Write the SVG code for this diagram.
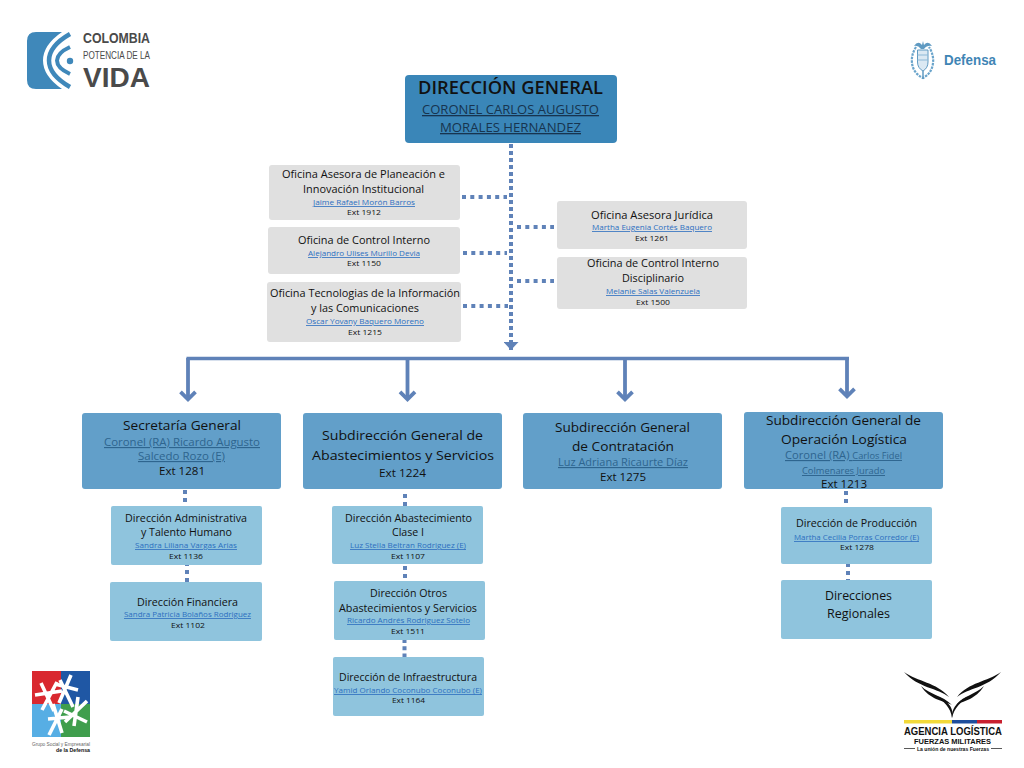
<svg xmlns="http://www.w3.org/2000/svg" width="1024" height="768" viewBox="0 0 1024 768">
<style>
text{font-family:"Open Sans","Noto Sans","Liberation Sans",sans-serif;fill:#111;}
.logo{font-family:"Liberation Sans",Arial,sans-serif;font-weight:700}
.u{text-decoration:underline}
.dg{font-size:17.500px;font-weight:600}
.dn{font-size:13px;fill:#17344f}
.t{font-size:11.500px}
.n{font-size:8px;fill:#2c6fc0}
.e{font-size:8px}
.bt{font-size:13.500px}
.bn{font-size:11.500px;fill:#2e658f}
.be{font-size:11.500px}
.lb{font-size:12px}
.top{fill:#3a86b8}
.gray{fill:#e0e0e0}
.mid{fill:#629fc9}
.light{fill:#8fc4dd}
.dash{fill:none;stroke:#5f82b8;stroke-width:4}
.solid{fill:none;stroke:#5f82b8;stroke-width:3.800}
</style>
<defs>
<marker id="chev" markerUnits="userSpaceOnUse" markerWidth="16" markerHeight="22" refX="9.200" refY="11" orient="auto" viewBox="0 0 16 22"><path d="M2,3.500 L9.500,11 L2,18.500" fill="none" stroke="#5f82b8" stroke-width="3.800"/></marker>
<marker id="tri" markerUnits="userSpaceOnUse" markerWidth="9" markerHeight="15" refX="8" refY="7.500" orient="auto" viewBox="0 0 9 15"><path d="M0,0 L8,7.500 L0,15 Z" fill="#5f82b8"/></marker>
</defs>
<rect width="1024" height="768" fill="#fff"/>

<g id="logo-colombia">
<path d="M62,32 H36 Q27,32 27,41 V80 Q27,89 36,89 H62 Q43,76 43,60.500 Q43,45 62,32 Z" fill="#3f88ba"/>
<path d="M70,34 Q49,46 49,60.500 Q49,75 70,87" fill="none" stroke="#3f88ba" stroke-width="4.500"/>
<path d="M70,47 Q57,53 57,60.500 Q57,68 70,74" fill="none" stroke="#3f88ba" stroke-width="4"/>
<circle cx="70" cy="61" r="3.200" fill="#3f88ba"/>
<text class="logo" x="83" y="43" textLength="67" lengthAdjust="spacingAndGlyphs" style="font-size:15px;fill:#4a4a4a">COLOMBIA</text>
<text class="logo" x="83" y="59" textLength="67" lengthAdjust="spacingAndGlyphs" style="font-size:10px;font-weight:400;fill:#4a4a4a">POTENCIA DE LA</text>
<text class="logo" x="83" y="87" textLength="67" lengthAdjust="spacingAndGlyphs" style="font-size:28px;fill:#4a4a4a">VIDA</text>
</g>

<g id="logo-defensa">
<path d="M916,47 Q911,55 912,63 Q913,73 923,78 Q932,73 933,63 Q934,55 929,47" fill="none" stroke="#6aa4cb" stroke-width="2.200" stroke-dasharray="2.500 1"/>
<path d="M914,46 Q918,40 922,45 L923,41 L924,45 Q928,40 932,46 Q927,45 924,49 H921 Q918,45 914,46 Z" fill="#5f9ac2"/>
<path d="M917.500,50 H928 V62 Q928,68 923,71 Q917.500,68 917.500,62 Z" fill="#dbe9f3" stroke="#5f9ac2" stroke-width="1"/>
<path d="M917.500,55 H928 M917.500,60 H928" stroke="#8db9d7" stroke-width="1"/>
<path d="M923,71 V79" stroke="#5f9ac2" stroke-width="1.500"/>
<text class="logo" x="944" y="65" textLength="52" lengthAdjust="spacingAndGlyphs" style="font-size:15.500px;fill:#3f85b5">Defensa</text>
</g>

<g id="connectors">
<path class="dash" stroke-dasharray="4 3" marker-end="url(#tri)" d="M511,144 V350"/>
<path class="dash" stroke-dasharray="4 4.300" d="M462,197 H507"/>
<path class="dash" stroke-dasharray="4 4.300" d="M463,253 H507"/>
<path class="dash" stroke-dasharray="4 4.300" d="M463,306 H508"/>
<path class="dash" stroke-dasharray="4 4.300" d="M517,227 H554"/>
<path class="dash" stroke-dasharray="4 4.300" d="M517,281 H554"/>
<path class="solid" style="stroke-width:3.400" d="M186.500,358.500 H849"/>
<path class="solid" marker-end="url(#chev)" d="M188,358 V399"/>
<path class="solid" marker-end="url(#chev)" d="M407.500,358 V399"/>
<path class="solid" marker-end="url(#chev)" d="M625,358 V399"/>
<path class="solid" marker-end="url(#chev)" d="M847,357 V396"/>
<path class="dash" stroke-dasharray="4 4" d="M185,490 V502.500"/>
<path class="dash" stroke-dasharray="4 4" d="M187,562 V582"/>
<path class="dash" stroke-dasharray="4 4" d="M405,494 V506"/>
<path class="dash" stroke-dasharray="4 4" d="M405,566 V578"/>
<path class="dash" stroke-dasharray="4 3.300" d="M404.500,639 V657"/>
<path class="dash" stroke-dasharray="4 4" d="M846,491 V503"/>
<path class="dash" stroke-dasharray="4 4" d="M848,563 V581"/>
</g>

<g id="direccion-general">
<rect class="top" x="405" y="75" width="212" height="68" rx="4"/>
<text class="dg" x="418" y="94" textLength="185" lengthAdjust="spacingAndGlyphs">DIRECCIÓN GENERAL</text>
<text class="dn u" x="422" y="114" textLength="177" lengthAdjust="spacingAndGlyphs">CORONEL CARLOS AUGUSTO</text>
<text class="dn u" x="440" y="132" textLength="141" lengthAdjust="spacingAndGlyphs">MORALES HERNANDEZ</text>
</g>

<g id="oficina-planeacion">
<rect class="gray" x="269" y="165" width="191" height="55" rx="3"/>
<text class="t" x="282" y="178" textLength="163" lengthAdjust="spacingAndGlyphs">Oficina Asesora de Planeación e</text>
<text class="t" x="303" y="193" textLength="121" lengthAdjust="spacingAndGlyphs">Innovación Institucional</text>
<text class="n u" x="313" y="205" textLength="102" lengthAdjust="spacingAndGlyphs">Jaime Rafael Morón Barros</text>
<text class="e" x="347" y="215" textLength="34" lengthAdjust="spacingAndGlyphs">Ext 1912</text>
</g>
<g id="oficina-control-interno">
<rect class="gray" x="268" y="227" width="192" height="47" rx="3"/>
<text class="t" x="298" y="244" textLength="132" lengthAdjust="spacingAndGlyphs">Oficina de Control Interno</text>
<text class="n u" x="308" y="256" textLength="112" lengthAdjust="spacingAndGlyphs">Alejandro Ulises Murillo Devia</text>
<text class="e" x="347" y="266" textLength="34" lengthAdjust="spacingAndGlyphs">Ext 1150</text>
</g>
<g id="oficina-tecnologias">
<rect class="gray" x="267" y="282" width="194" height="60" rx="3"/>
<text class="t" x="270" y="297" textLength="190" lengthAdjust="spacingAndGlyphs">Oficina Tecnologias de la Información</text>
<text class="t" x="311" y="312" textLength="108" lengthAdjust="spacingAndGlyphs">y las Comunicaciones</text>
<text class="n u" x="306" y="324" textLength="118" lengthAdjust="spacingAndGlyphs">Oscar Yovany Baquero Moreno</text>
<text class="e" x="348" y="335" textLength="34" lengthAdjust="spacingAndGlyphs">Ext 1215</text>
</g>
<g id="oficina-juridica">
<rect class="gray" x="557" y="201" width="190" height="48" rx="3"/>
<text class="t" x="591" y="219" textLength="122" lengthAdjust="spacingAndGlyphs">Oficina Asesora Jurídica</text>
<text class="n u" x="592" y="230" textLength="120" lengthAdjust="spacingAndGlyphs">Martha Eugenia Cortés Baquero</text>
<text class="e" x="635" y="241" textLength="34" lengthAdjust="spacingAndGlyphs">Ext 1261</text>
</g>
<g id="oficina-disciplinario">
<rect class="gray" x="557" y="257" width="190" height="52" rx="3"/>
<text class="t" x="587" y="267" textLength="132" lengthAdjust="spacingAndGlyphs">Oficina de Control Interno</text>
<text class="t" x="622" y="282" textLength="62" lengthAdjust="spacingAndGlyphs">Disciplinario</text>
<text class="n u" x="606" y="294" textLength="94" lengthAdjust="spacingAndGlyphs">Melanie Salas Valenzuela</text>
<text class="e" x="636" y="305" textLength="34" lengthAdjust="spacingAndGlyphs">Ext 1500</text>
</g>

<g id="secretaria-general">
<rect class="mid" x="82" y="413" width="199" height="76" rx="3"/>
<text class="bt" x="123" y="430" textLength="118" lengthAdjust="spacingAndGlyphs">Secretaría General</text>
<text class="bn u" x="104" y="446" textLength="156" lengthAdjust="spacingAndGlyphs">Coronel (RA) Ricardo Augusto</text>
<text class="bn u" x="138" y="460" textLength="87" lengthAdjust="spacingAndGlyphs">Salcedo Rozo (E)</text>
<text class="be" x="159" y="475" textLength="46" lengthAdjust="spacingAndGlyphs">Ext 1281</text>
</g>
<g id="subdireccion-abastecimientos">
<rect class="mid" x="303" y="413" width="199" height="76" rx="3"/>
<text class="bt" x="322" y="440" textLength="161" lengthAdjust="spacingAndGlyphs">Subdirección General de</text>
<text class="bt" x="312" y="460" textLength="182" lengthAdjust="spacingAndGlyphs">Abastecimientos y Servicios</text>
<text class="be" x="379" y="477" textLength="47" lengthAdjust="spacingAndGlyphs">Ext 1224</text>
</g>
<g id="subdireccion-contratacion">
<rect class="mid" x="523" y="413" width="199" height="76" rx="3"/>
<text class="bt" x="555" y="432" textLength="135" lengthAdjust="spacingAndGlyphs">Subdirección General</text>
<text class="bt" x="572" y="451" textLength="102" lengthAdjust="spacingAndGlyphs">de Contratación</text>
<text class="bn u" x="558" y="466" textLength="130" lengthAdjust="spacingAndGlyphs">Luz Adriana Ricaurte Díaz</text>
<text class="be" x="600" y="481" textLength="46" lengthAdjust="spacingAndGlyphs">Ext 1275</text>
</g>
<g id="subdireccion-operacion">
<rect class="mid" x="744" y="412" width="199" height="77" rx="3"/>
<text class="bt" x="766" y="425" textLength="155" lengthAdjust="spacingAndGlyphs">Subdirección General de</text>
<text class="bt" x="781" y="444" textLength="126" lengthAdjust="spacingAndGlyphs">Operación Logística</text>
<text class="bn u" x="785" y="459" textLength="117" lengthAdjust="spacingAndGlyphs">Coronel (RA) <tspan style="font-size:9.500px">Carlos Fidel</tspan></text>
<text class="bn u" x="802" y="474" textLength="83" lengthAdjust="spacingAndGlyphs" style="font-size:9.500px">Colmenares Jurado</text>
<text class="be" x="821" y="488" textLength="46" lengthAdjust="spacingAndGlyphs">Ext 1213</text>
</g>

<g id="direccion-administrativa">
<rect class="light" x="111" y="506" width="151" height="59" rx="2"/>
<text class="t" x="125" y="522" textLength="122" lengthAdjust="spacingAndGlyphs">Dirección Administrativa</text>
<text class="t" x="141" y="536" textLength="91" lengthAdjust="spacingAndGlyphs">y Talento Humano</text>
<text class="n u" x="135" y="548" textLength="102" lengthAdjust="spacingAndGlyphs">Sandra Liliana Vargas Arias</text>
<text class="e" x="169" y="559" textLength="34" lengthAdjust="spacingAndGlyphs">Ext 1136</text>
</g>
<g id="direccion-financiera">
<rect class="light" x="110" y="582" width="152" height="59" rx="2"/>
<text class="t" x="137" y="606" textLength="101" lengthAdjust="spacingAndGlyphs">Dirección Financiera</text>
<text class="n u" x="124" y="617" textLength="127" lengthAdjust="spacingAndGlyphs">Sandra Patricia Bolaños Rodriguez</text>
<text class="e" x="171" y="628" textLength="34" lengthAdjust="spacingAndGlyphs">Ext 1102</text>
</g>
<g id="direccion-abastecimiento-clase-i">
<rect class="light" x="332" y="506" width="151" height="58" rx="2"/>
<text class="t" x="345" y="522" textLength="127" lengthAdjust="spacingAndGlyphs">Dirección Abastecimiento</text>
<text class="t" x="392" y="536" textLength="32" lengthAdjust="spacingAndGlyphs">Clase I</text>
<text class="n u" x="350" y="548" textLength="116" lengthAdjust="spacingAndGlyphs">Luz Stella Beltran Rodriguez (E)</text>
<text class="e" x="391" y="559" textLength="34" lengthAdjust="spacingAndGlyphs">Ext 1107</text>
</g>
<g id="direccion-otros">
<rect class="light" x="334" y="581" width="151" height="59" rx="2"/>
<text class="t" x="370" y="597" textLength="77" lengthAdjust="spacingAndGlyphs">Dirección Otros</text>
<text class="t" x="339" y="612" textLength="138" lengthAdjust="spacingAndGlyphs">Abastecimientos y Servicios</text>
<text class="n u" x="347" y="623" textLength="123" lengthAdjust="spacingAndGlyphs">Ricardo Andrés Rodriguez Sotelo</text>
<text class="e" x="391" y="634" textLength="34" lengthAdjust="spacingAndGlyphs">Ext 1511</text>
</g>
<g id="direccion-infraestructura">
<rect class="light" x="333" y="657" width="151" height="59" rx="2"/>
<text class="t" x="339" y="681" textLength="138" lengthAdjust="spacingAndGlyphs">Dirección de Infraestructura</text>
<text class="n u" x="334" y="693" textLength="148" lengthAdjust="spacingAndGlyphs">Yamid Orlando Coconubo Coconubo (E)</text>
<text class="e" x="392" y="703" textLength="33" lengthAdjust="spacingAndGlyphs">Ext 1164</text>
</g>
<g id="direccion-produccion">
<rect class="light" x="781" y="507" width="151" height="57" rx="2"/>
<text class="t" x="796" y="527" textLength="121" lengthAdjust="spacingAndGlyphs">Dirección de Producción</text>
<text class="n u" x="794" y="540" textLength="125" lengthAdjust="spacingAndGlyphs">Martha Cecilia Porras Corredor (E)</text>
<text class="e" x="840" y="550" textLength="34" lengthAdjust="spacingAndGlyphs">Ext 1278</text>
</g>
<g id="direcciones-regionales">
<rect class="light" x="781" y="580" width="151" height="59" rx="2"/>
<text class="lb" x="825" y="600" textLength="67" lengthAdjust="spacingAndGlyphs">Direcciones</text>
<text class="lb" x="827" y="618" textLength="63" lengthAdjust="spacingAndGlyphs">Regionales</text>
</g>

<g id="logo-grupo-social">
<rect x="32" y="671" width="29" height="33" fill="#d9282f"/>
<rect x="61" y="671" width="29" height="33" fill="#1f57a4"/>
<rect x="32" y="704" width="29" height="33" fill="#57aee4"/>
<rect x="61" y="704" width="29" height="33" fill="#3f9e4d"/>
<g fill="none" stroke="#fff" stroke-width="3.600">
<path d="M35,695 L62,691 M41,683 L54,711 M57,682 L42,710"/>
<path d="M60,680 L73,707 M71,675 L59,703 M55,684 L78,690"/>
<path d="M49,735 L62,709 M62,733 L53,704 M48,719 L70,717"/>
<path d="M64,711 L87,722 M78,697 L74,726 M87,701 L65,722"/>
</g>
<text class="logo" x="32" y="746" textLength="58" lengthAdjust="spacingAndGlyphs" style="font-size:6px;font-weight:400;fill:#666">Grupo Social y Empresarial</text>
<text class="logo" x="56" y="752" textLength="34" lengthAdjust="spacingAndGlyphs" style="font-size:5.500px">de la Defensa</text>
</g>

<g id="logo-agencia">
<g fill="#111">
<path d="M904,672 C918,682 936,682 949,697 C938,688 918,688 904,672 Z"/>
<path d="M921,686 C930,695 942,695 952,705 C942,700 930,700 921,686 Z"/>
<path d="M934,695 C945,699 955,706 952,718 C951,708 944,701 934,695 Z"/>
<path d="M1001,672 C987,682 969,682 957,697 C968,688 987,688 1001,672 Z"/>
<path d="M984,686 C975,695 964,695 956,705 C965,700 975,700 984,686 Z"/>
<path d="M972,695 C961,699 951,706 952,718 C954,708 961,701 972,695 Z"/>
</g>
<rect x="904" y="720" width="48" height="3.500" fill="#f2d93a"/>
<rect x="952" y="720" width="25" height="3.500" fill="#1f4e9c"/>
<rect x="977" y="720" width="25" height="3.500" fill="#c8202f"/>
<text class="logo" x="904" y="735" textLength="98" lengthAdjust="spacingAndGlyphs" style="font-size:10.500px">AGENCIA LOGÍSTICA</text>
<text class="logo" x="914" y="744" textLength="77" lengthAdjust="spacingAndGlyphs" style="font-size:7.500px">FUERZAS MILITARES</text>
<text class="logo" x="917" y="750.800" textLength="72" lengthAdjust="spacingAndGlyphs" style="font-size:5.500px">La unión de nuestras Fuerzas</text>
<path d="M904,748.500 H915 M991,748.500 H1002" stroke="#111" stroke-width="0.700"/>
</g>
</svg>
